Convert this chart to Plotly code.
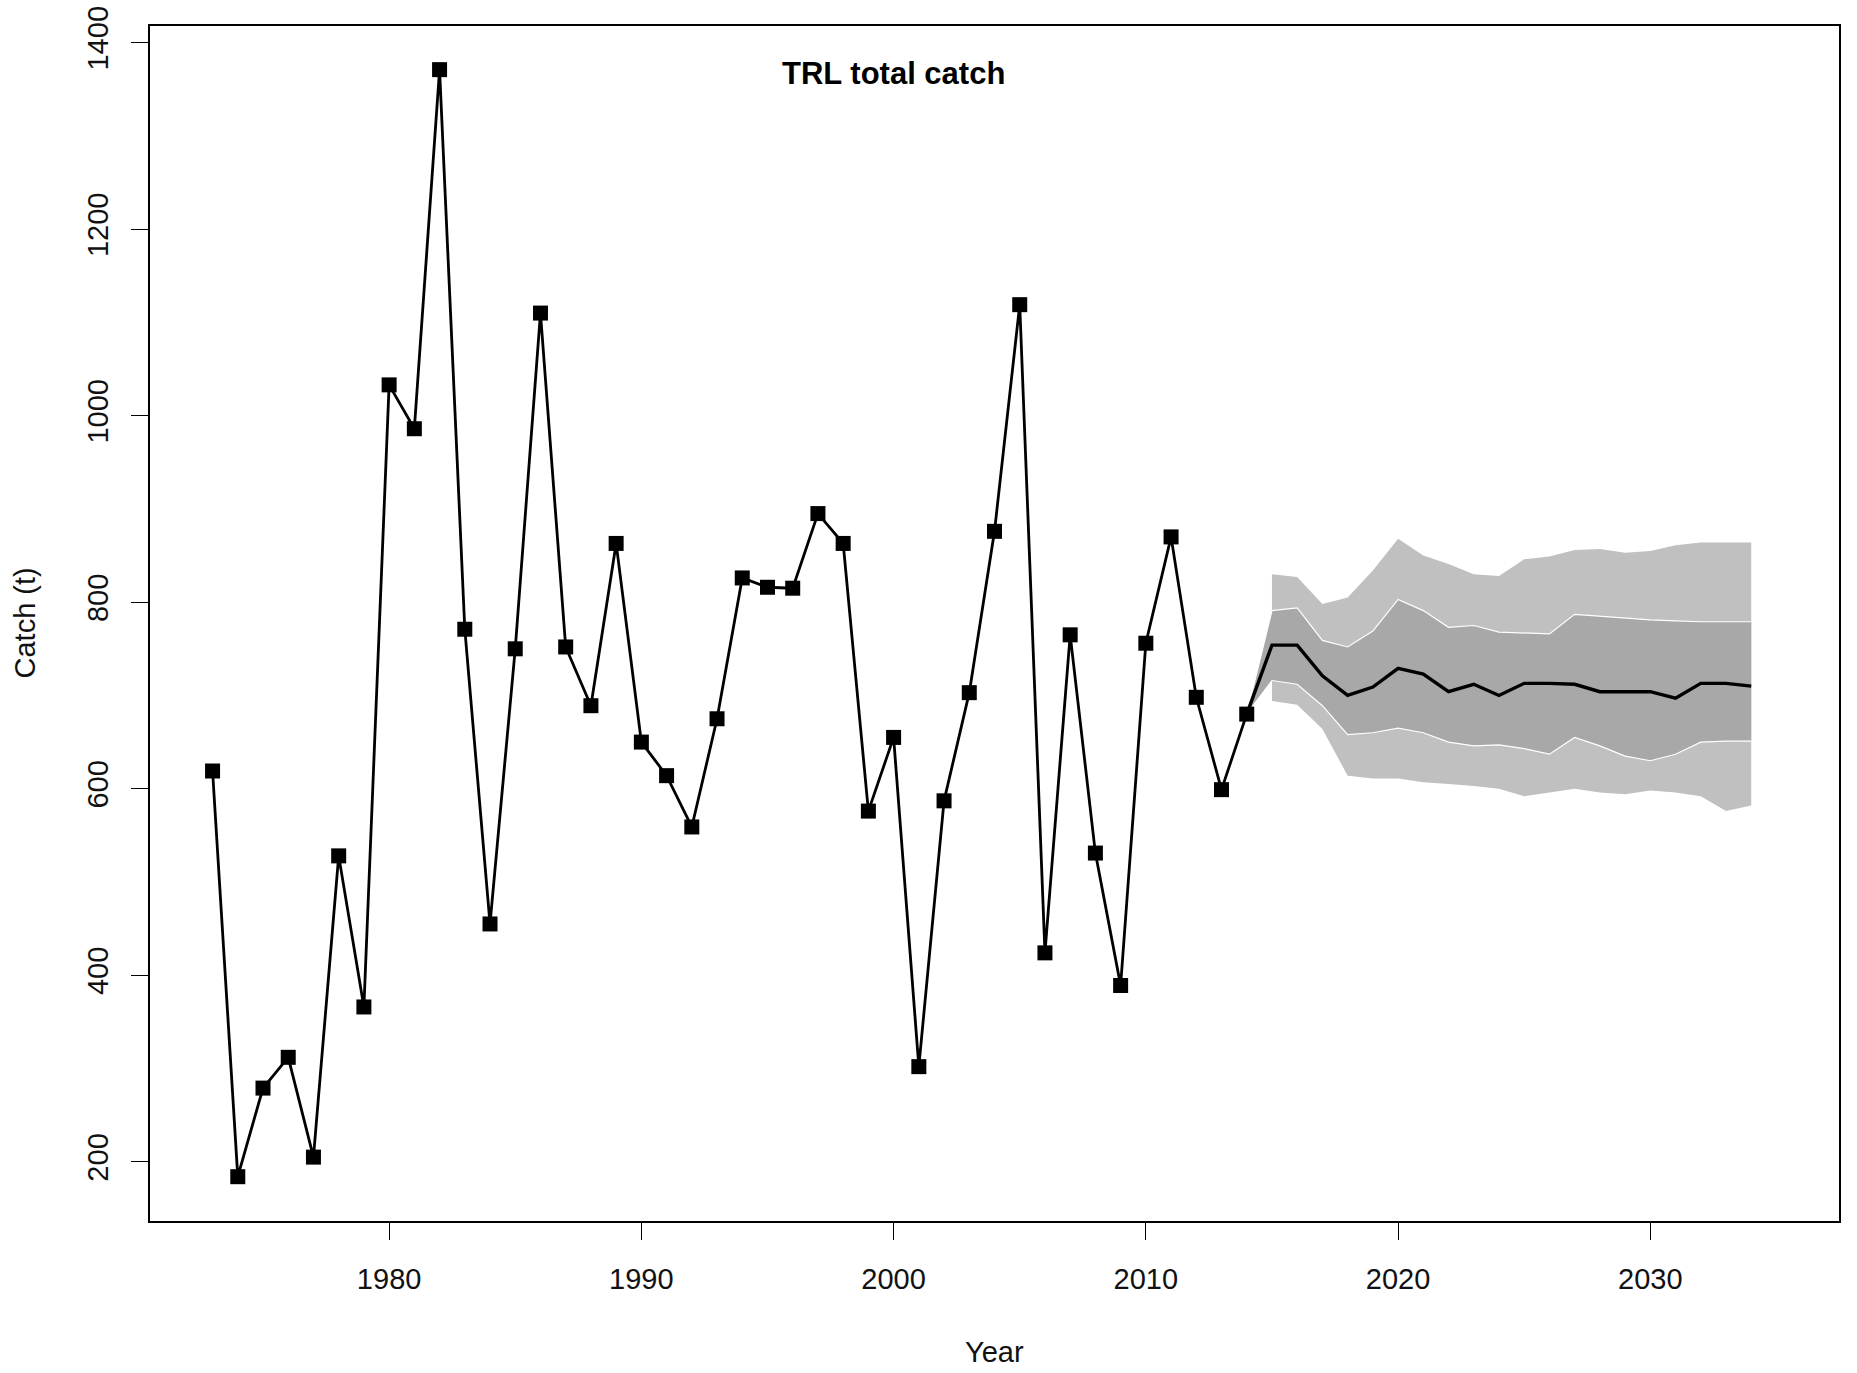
import plotly.graph_objects as go

# Historical catch
hist_years = list(range(1973, 2015))
hist_catch = [619, 184, 279, 312, 205, 528, 366, 1033, 986, 1371,
              771, 455, 750, 1110, 752, 689, 863, 650, 614, 559,
              675, 826, 816, 815, 895, 863, 576, 655, 302, 587,
              703, 876, 1119, 424, 765, 531, 389, 756, 870, 698,
              599, 680]

# Projections
proj_years = list(range(2014, 2035))
proj_median = [680, 754, 754, 721, 700, 709, 729, 723, 704, 712, 700,
               713, 713, 712, 704, 704, 704, 697, 713, 713, 710]
inner_upper = [680, 791, 794, 759, 752, 769, 803, 791, 773, 775, 768,
               767, 766, 787, 785, 783, 781, 780, 779, 779, 779]
inner_lower = [680, 716, 712, 689, 658, 660, 665, 660, 650, 646, 647,
               643, 637, 655, 646, 635, 630, 637, 650, 651, 651]

outer_years = list(range(2015, 2035))
outer_upper = [830, 827, 798, 805, 834, 868, 850, 841, 830, 828,
               846, 849, 856, 857, 853, 855, 861, 864, 864, 864]
outer_lower = [694, 690, 664, 614, 611, 611, 607, 605, 603, 600,
               592, 596, 600, 596, 594, 598, 596, 592, 576, 582]

title_text = "TRL total catch"
x_label = "Year"
y_label = "Catch (t)"
x_ticks = [1980, 1990, 2000, 2010, 2020, 2030]
y_ticks = [200, 400, 600, 800, 1000, 1200, 1400]

FONT = "Liberation Sans, Arial, sans-serif"

fig = go.Figure()

fig.add_trace(go.Scatter(
    x=outer_years + outer_years[::-1],
    y=outer_upper + outer_lower[::-1],
    fill="toself", fillcolor="#c0c0c0", line=dict(width=0),
    mode="lines", hoverinfo="skip", showlegend=False))

fig.add_trace(go.Scatter(
    x=proj_years + proj_years[::-1],
    y=inner_upper + inner_lower[::-1],
    fill="toself", fillcolor="#a8a8a8", line=dict(width=0),
    mode="lines", hoverinfo="skip", showlegend=False))

fig.add_trace(go.Scatter(x=proj_years, y=inner_upper, mode="lines",
                         line=dict(color="white", width=1.2), showlegend=False))
fig.add_trace(go.Scatter(x=proj_years, y=inner_lower, mode="lines",
                         line=dict(color="white", width=1.2), showlegend=False))

fig.add_trace(go.Scatter(x=proj_years, y=proj_median, mode="lines",
                         line=dict(color="black", width=3.4), showlegend=False))

fig.add_trace(go.Scatter(
    x=hist_years, y=hist_catch, mode="lines+markers",
    line=dict(color="black", width=2.8),
    marker=dict(symbol="square", size=15, color="black"),
    showlegend=False))

fig.add_annotation(x=2000, y=1367, xref="x", yref="y", text="<b>" + title_text + "</b>",
                   showarrow=False, font=dict(family=FONT, size=31, color="black"))
fig.add_annotation(x=0.5, y=0, xref="paper", yref="paper", text=x_label,
                   showarrow=False, yshift=-131, yanchor="middle",
                   font=dict(family=FONT, size=29, color="#111"))
fig.add_annotation(x=0, y=0.5, xref="paper", yref="paper", text=y_label,
                   showarrow=False, xshift=-126, xanchor="center", textangle=-90,
                   font=dict(family=FONT, size=29, color="#111"))

axis_common = dict(showgrid=False, zeroline=False, showline=True, linecolor="black",
                   linewidth=1.5, mirror=True, ticks="outside", ticklen=17,
                   tickwidth=1.2, tickcolor="black", automargin=False,
                   tickfont=dict(family=FONT, size=29, color="#111"))

fig.update_xaxes(range=[1970.52, 2037.48], tickvals=x_ticks,
                 ticklabelstandoff=14, **axis_common)
fig.update_yaxes(range=[136.5, 1417.8], tickvals=y_ticks, tickangle=-90,
                 ticklabelstandoff=12, **axis_common)

fig.update_layout(width=1857, height=1373, plot_bgcolor="white", paper_bgcolor="white",
                  margin=dict(l=150, r=18, t=26, b=152, autoexpand=False), showlegend=False)

fig.write_html("out.html", config={"displayModeBar": False},
               post_script="document.body.style.margin='0px';")
